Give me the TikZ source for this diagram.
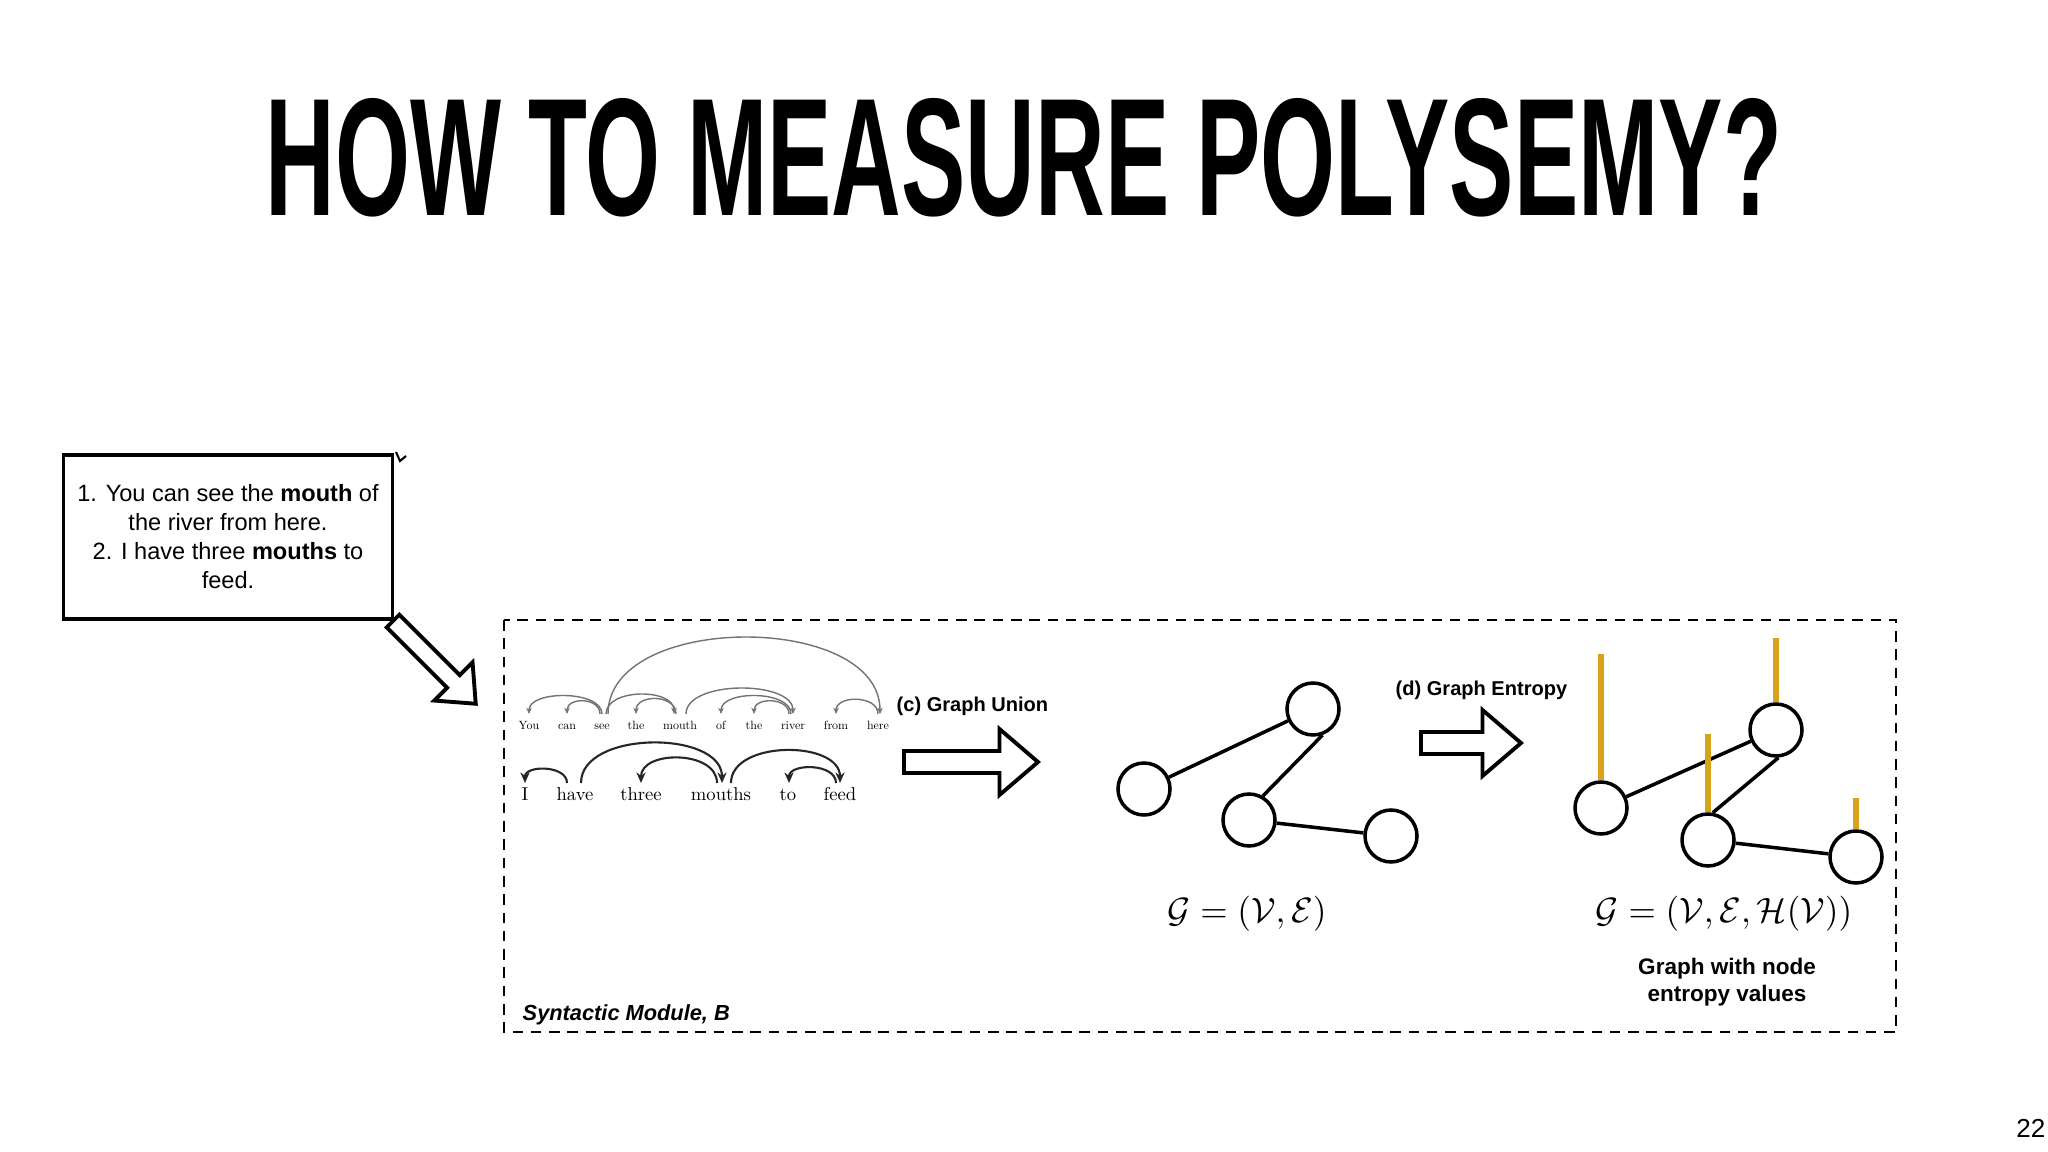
\documentclass[tikz,border=0pt]{standalone}
\usepackage{fontspec}
\setmainfont{Liberation Sans}
\newfontfamily\lmr{Latin Modern Roman}
\usetikzlibrary{arrows.meta}
\newcommand{\harrow}[5]{% x y rot length headlen
  \begin{scope}[shift={(#1,#2)},rotate=#3]
    \draw[line width=1.1pt,fill=white] (0,-#5) -- ({#4-#5*3.5},-#5) -- ({#4-#5*3.5},{-#5*3}) -- (#4,0) -- ({#4-#5*3.5},{#5*3}) -- ({#4-#5*3.5},#5) -- (0,#5) -- cycle;
  \end{scope}}
\begin{document}
\begin{tikzpicture}[x=0.01cm,y=-0.01cm,
  gnode/.style={circle,draw,line width=1pt,minimum size=52*0.01cm,inner sep=0pt},
  gedge/.style={line width=1pt},
  ebar/.style={draw=entropy,line width=6*0.01cm},
  dep1/.style={draw=black!55,line width=0.4pt,-{Stealth[length=1.8pt,width=1.6pt]}},
  dep2/.style={draw=black!85,line width=0.6pt,-{Stealth[length=3pt,width=2.6pt]}},
  w1/.style={font=\lmr\fontsize{10pt}{12pt}\selectfont,scale=0.34,inner sep=0pt,anchor=base},
  w2/.style={font=\lmr\fontsize{10pt}{12pt}\selectfont,scale=0.53,inner sep=0pt,anchor=base},
  lab/.style={font=\bfseries\fontsize{5.7pt}{6.8pt}\selectfont,inner sep=0pt}]
\definecolor{entropy}{HTML}{D9A21B}
\useasboundingbox[fill=white] (0,0) rectangle (2048,1152);
% title
\node[inner sep=0pt,anchor=north] (title) at (1024,98) {\resizebox{15.15cm}{1.17cm}{\bfseries HOW TO MEASURE POLYSEMY?}};
% sentence box
\node[draw,line width=1pt,minimum width=329*0.01cm,minimum height=164*0.01cm,align=center,
  font=\fontsize{6.7pt}{8.25pt}\selectfont,inner sep=0pt] (sent) at (228,537)
  {1. You can see the \textbf{mouth} of\\the river from here.\\2. I have three \textbf{mouths} to\\feed.};
\draw[line width=0.6pt] (396,452) -- (400,461) -- (406,456);
\harrow{393}{621}{-45}{117}{9}
% dashed module
\draw[dashed,line width=0.8pt,dash pattern=on 3pt off 2.2pt] (504,620) rectangle (1896,1032);
\node[font=\bfseries\itshape\fontsize{6.2pt}{7pt}\selectfont,anchor=base west,inner sep=0pt] (mod) at (522,1020) {Syntactic Module, B};
% dependency row 1
\foreach \w/\x/\n in {You/529/a,can/567/b,see/602/c,the/636/d,mouth/680/e,of/721/f,the/754/g,river/793/h,from/836/i,here/878/j}
  \node[w1] (r\n) at (\x,729) {\w};
\def\ya{714}
\draw[dep1] (602,\ya) .. controls (602,690) and (529,690) .. (529,\ya);
\draw[dep1] (600,\ya) .. controls (600,697) and (567,697) .. (567,\ya);
\draw[dep1] (676,\ya) .. controls (676,694) and (636,694) .. (636,\ya);
\draw[dep1] (606,\ya) .. controls (606,688) and (674,688) .. (674,\ya);
\draw[dep1] (686,\ya) .. controls (686,680) and (793,680) .. (793,\ya);
\draw[dep1] (791,\ya) .. controls (791,690) and (721,690) .. (721,\ya);
\draw[dep1] (789,\ya) .. controls (789,697) and (754,697) .. (754,\ya);
\draw[dep1] (878,\ya) .. controls (878,695) and (836,695) .. (836,\ya);
\draw[dep1] (608,\ya) .. controls (608,612) and (880,612) .. (880,\ya);
% dependency row 2
\foreach \w/\x/\n in {I/525/a,have/575/b,three/641/c,mouths/721/d,to/788/e,feed/840/f}
  \node[w2] (s\n) at (\x,800) {\w};
\def\yb{783}
\draw[dep2] (567,\yb) .. controls (567,765) and (525,765) .. (525,\yb);
\draw[dep2] (581,\yb) .. controls (581,730) and (722,730) .. (722,\yb);
\draw[dep2] (717,\yb) .. controls (717,750) and (641,750) .. (641,\yb);
\draw[dep2] (731,\yb) .. controls (731,740) and (840,740) .. (840,\yb);
\draw[dep2] (836,\yb) .. controls (836,763) and (789,763) .. (789,\yb);
% graph union
\node[lab,anchor=west] (cu) at (896,706) {(c) Graph Union};
\harrow{904}{762}{0}{134}{11}
\node[gnode] (a1) at (1144,789) {};
\node[gnode] (b1) at (1313,709) {};
\node[gnode] (c1) at (1249,820) {};
\node[gnode] (d1) at (1391,836) {};
\draw[gedge] (a1) -- (b1); \draw[gedge] (b1.-70) -- (c1.60); \draw[gedge] (c1) -- (d1);
\node[font=\fontsize{10.3pt}{12pt}\selectfont] (f1) at (1247,914) {$\mathcal{G}=(\mathcal{V},\mathcal{E})$};
% graph entropy
\node[lab,anchor=west] (de) at (1395,690) {(d) Graph Entropy};
\harrow{1421}{743}{0}{100}{11}
\node[gnode] (a2) at (1601,808) {};
\node[gnode] (b2) at (1776,730) {};
\node[gnode] (c2) at (1708,840) {};
\node[gnode] (d2) at (1856,857) {};
\draw[gedge] (a2) -- (b2); \draw[gedge] (b2.-85) -- (c2.80); \draw[gedge] (c2) -- (d2);
\draw[ebar] (a2.north) -- ++(0,-126);
\draw[ebar] (b2.north) -- ++(0,-64);
\draw[ebar] (c2.north) -- ++(0,-78);
\draw[ebar] (d2.north) -- ++(0,-31);
\node[font=\fontsize{10.3pt}{12pt}\selectfont] (f2) at (1724,914) {$\mathcal{G}=(\mathcal{V},\mathcal{E},\mathcal{H}(\mathcal{V}))$};
\node[lab,align=center,font=\bfseries\fontsize{6.4pt}{7.6pt}\selectfont] (gl) at (1727,982) {Graph with node\\entropy values};
\node[font=\fontsize{7.4pt}{9pt}\selectfont,anchor=east,inner sep=0pt] (pg) at (2046,1128) {22};
\end{tikzpicture}
\end{document}
